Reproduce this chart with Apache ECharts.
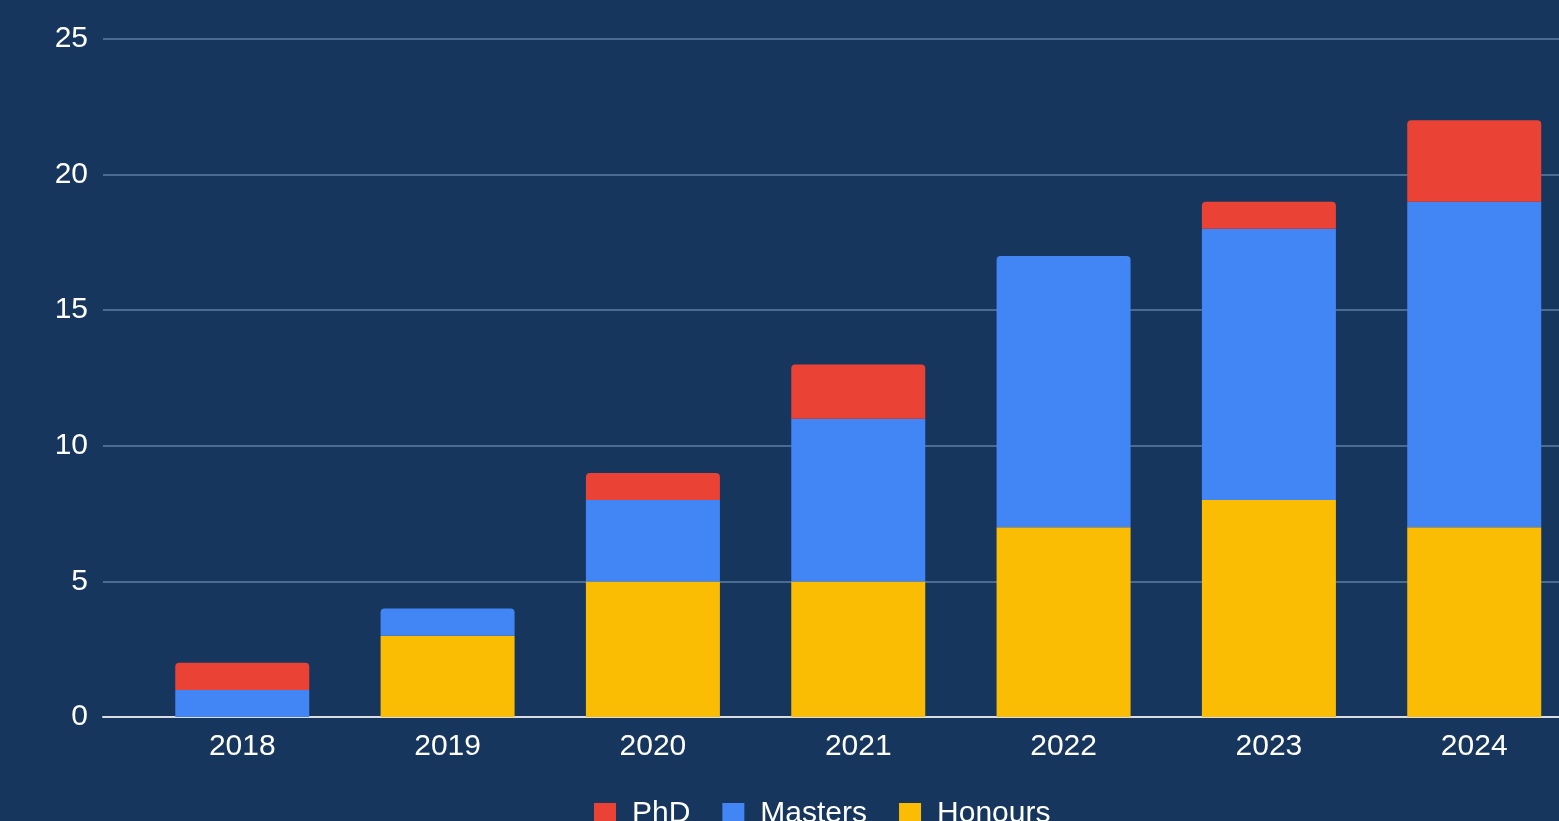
<!DOCTYPE html>
<html>
<head>
<meta charset="utf-8">
<script src="https://cdn.jsdelivr.net/npm/echarts@6/dist/echarts.min.js"></script>
<style>
html,body{margin:0;padding:0;background:#17365e;overflow:hidden;}
#c{width:1559px;height:821px;}
</style>
</head>
<body>
<div id="c"></div>
<script>
const years = ['2018','2019','2020','2021','2022','2023','2024'];
const honours = [0,3,5,5,7,8,7];
const masters = [1,1,3,6,10,10,12];
const phd = [1,0,1,2,0,1,3];
const yTicks = [0,5,10,15,20,25];

const colors = {PhD:'#ea4335', Masters:'#4285f4', Honours:'#fbbc04'};
const stackOrder = [['Honours',honours],['Masters',masters],['PhD',phd]];

function topIndex(i){
  let t = -1;
  stackOrder.forEach((s,k)=>{ if(s[1][i] > 0) t = k; });
  return t;
}

const font = '"Liberation Sans", Arial, sans-serif';
const series = stackOrder.map((s,k)=>({
  name: s[0],
  type: 'bar',
  stack: 'total',
  xAxisIndex: 1,
  yAxisIndex: 1,
  barWidth: 134,
  itemStyle: {color: colors[s[0]]},
  data: s[1].map((v,i)=> topIndex(i)===k ? {value:v, itemStyle:{borderRadius:[4,4,0,0]}} : v)
}));

const chart = echarts.init(document.getElementById('c'));
chart.setOption({
  backgroundColor: '#17365e',
  animation: false,
  legend: {
    data: ['PhD','Masters','Honours'],
    left: 589, top: 794,
    itemWidth: 22, itemHeight: 22, itemGap: 32,
    icon: 'rect',
    textStyle: {color:'#ffffff', fontSize: 30, fontFamily: font, padding:[0,0,0,11]}
  },
  grid: [
    {left: 103, right: 0, top: 39, bottom: 104, outerBoundsMode: 'none', containLabel: false},
    {left: 139.6, width: 1437.3, top: 39, bottom: 104, outerBoundsMode: 'none', containLabel: false}
  ],
  xAxis: [
    {type:'value', gridIndex:0, min:0, max:1, show:true,
     axisLine:{show:true, lineStyle:{color:'#d9dde3', width:2}},
     axisTick:{show:false}, axisLabel:{show:false}, splitLine:{show:false}},
    {type:'category', gridIndex:1, data: years,
     axisLine:{show:false}, axisTick:{show:false},
     axisLabel:{color:'#ffffff', fontSize:30, fontFamily:font, margin:15}}
  ],
  yAxis: [
    {type:'value', gridIndex:0, min:0, max:25, interval:5,
     axisLine:{show:false}, axisTick:{show:false},
     axisLabel:{color:'#ffffff', fontSize:30, fontFamily:font, margin:15,
       formatter: v => yTicks.includes(v) ? String(v) : ''},
     splitLine:{lineStyle:{color:'#4a6b92', width:2}}},
    {type:'value', gridIndex:1, min:0, max:25, interval:5, show:false,
     splitLine:{show:false}}
  ],
  series: series
});
</script>
</body>
</html>
